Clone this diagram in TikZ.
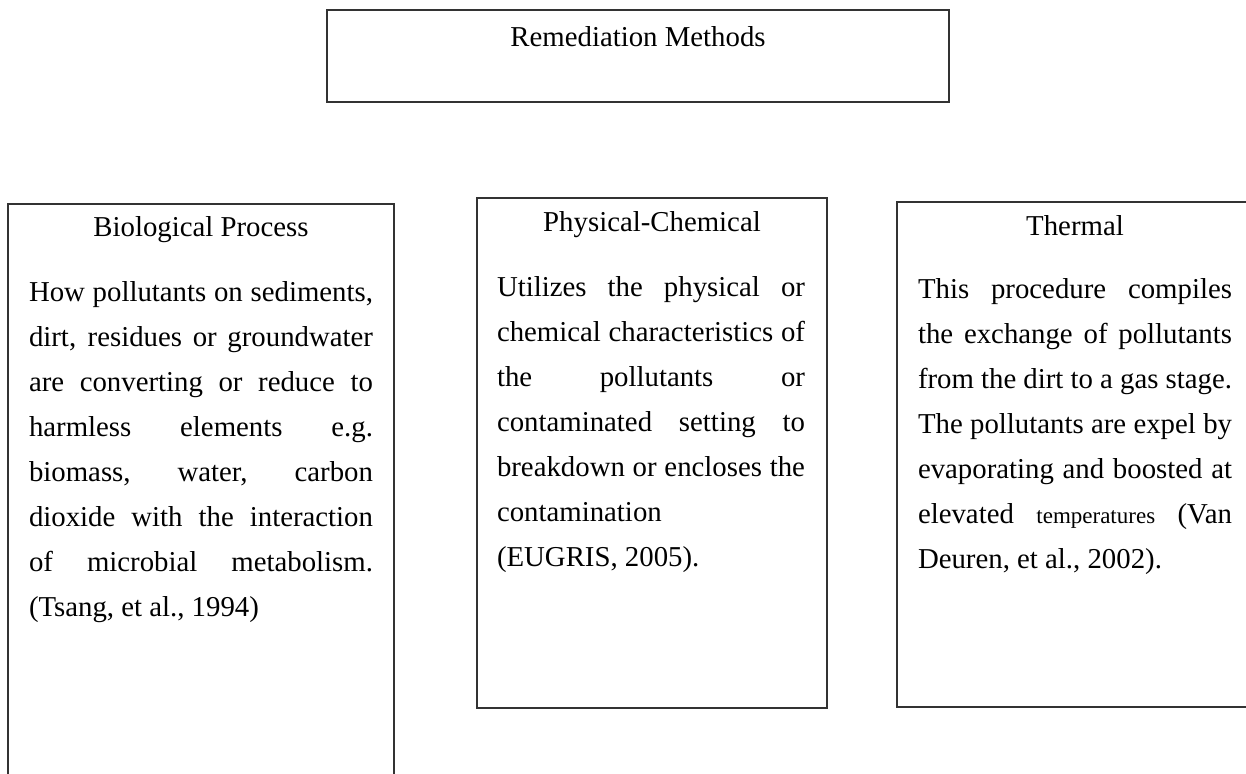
\documentclass[tikz,border=0pt]{standalone}
\usepackage{fontspec}
\setmainfont{Liberation Serif}
\tikzset{
  frame/.style={draw=black!80, line width=1.1pt, inner sep=0pt, outer sep=0pt},
  txt/.style={inner sep=0pt, outer sep=0pt, font=\fontsize{28.8}{34}\selectfont},
  lline/.style={txt, anchor=base west},
  ttl/.style={txt, anchor=base},
}
\newcommand\jline[2]{\makebox[#1][s]{#2}}
\begin{document}
\begin{tikzpicture}[x=1pt,y=-1pt]
\clip (0,0) rectangle (1246,773);
\fill[white] (0,0) rectangle (1246,773);
% frames
\node[frame, anchor=north west, minimum width=622pt, minimum height=92pt] (rm) at (327,10) {};
\node[frame, anchor=north west, minimum width=386pt, minimum height=600pt] (bio) at (8,204) {};
\node[frame, anchor=north west, minimum width=350pt, minimum height=510pt] (phy) at (477,198) {};
\node[frame, anchor=north west, minimum width=380pt, minimum height=505pt] (thm) at (897,202) {};
% titles
\node[ttl] (rmt) at (638,47) {Remediation Methods};
\node[ttl] (biot) at (201,236) {Biological Process};
\node[ttl] (phyt) at (652,231) {Physical-Chemical};
\node[ttl] (thmt) at (1075,235) {Thermal};
% biological
\node[lline] (b1) at (29,301) {\jline{344pt}{How pollutants on sediments,}};
\node[lline] (b2) at (29,346) {\jline{344pt}{dirt, residues or groundwater}};
\node[lline] (b3) at (29,391) {\jline{344pt}{are converting or reduce to}};
\node[lline] (b4) at (29,436) {\jline{344pt}{harmless elements e.g.}};
\node[lline] (b5) at (29,481) {\jline{344pt}{biomass, water, carbon}};
\node[lline] (b6) at (29,526) {\jline{344pt}{dioxide with the interaction}};
\node[lline] (b7) at (29,571) {\jline{344pt}{of microbial metabolism.}};
\node[lline] (b8) at (29,616) {(Tsang, et al., 1994)};
% physical-chemical
\node[lline] (p1) at (497,296) {\jline{308pt}{Utilizes the physical or}};
\node[lline] (p2) at (497,341) {\jline{308pt}{chemical characteristics of}};
\node[lline] (p3) at (497,386) {\jline{308pt}{the pollutants or}};
\node[lline] (p4) at (497,431) {\jline{308pt}{contaminated setting to}};
\node[lline] (p5) at (497,476) {\jline{308pt}{breakdown or encloses the}};
\node[lline] (p6) at (497,521) {contamination};
\node[lline] (p7) at (497,566) {(EUGRIS, 2005).};
% thermal
\node[lline] (t1) at (918,298) {\jline{314pt}{This procedure compiles}};
\node[lline] (t2) at (918,343) {\jline{314pt}{the exchange of pollutants}};
\node[lline] (t3) at (918,388) {\jline{314pt}{from the dirt to a gas stage.}};
\node[lline] (t4) at (918,433) {\jline{314pt}{The pollutants are expel by}};
\node[lline] (t5) at (918,478) {\jline{314pt}{evaporating and boosted at}};
\node[lline] (t6) at (918,523) {\jline{314pt}{elevated {\fontsize{23}{28}\selectfont temperatures} (Van}};
\node[lline] (t7) at (918,568) {Deuren, et al., 2002).};
\end{tikzpicture}
\end{document}
